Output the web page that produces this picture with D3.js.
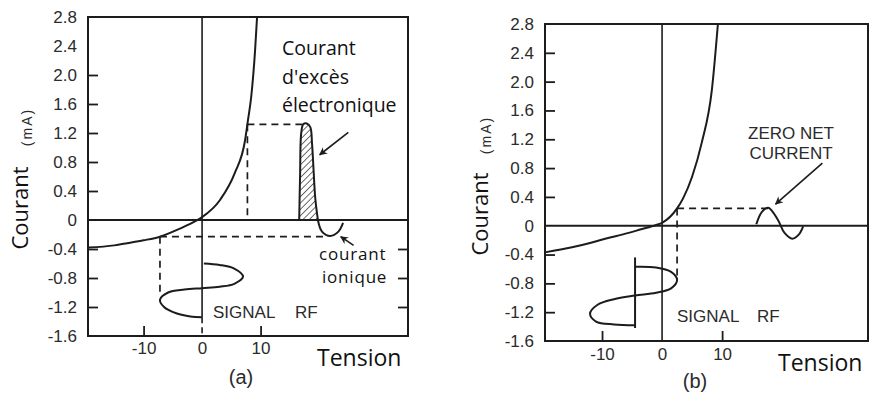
<!DOCTYPE html>
<html>
<head>
<meta charset="utf-8">
<script src="https://cdn.jsdelivr.net/npm/d3@7"></script>
<style>
  body { margin: 0; background: #fff; }
  svg { display: block; }
  .num { font-family: "Liberation Sans", Arial, sans-serif; fill: #2b2b2b; }
  .fr { font-family: "Open Sans", sans-serif; fill: #111; }
  .en { font-family: "Liberation Sans", Arial, sans-serif; fill: #2b2b2b; }
</style>
</head>
<body>
<svg id="chart" width="870" height="393"></svg>
<script>
// tick values (mA / V)
const yTicks = [2.8, 2.4, 2.0, 1.6, 1.2, 0.8, 0.4, 0, -0.4, -0.8, -1.2, -1.6];
const yTickLabels = ['2.8', '2.4', '2.0', '1.6', '1.2', '0.8', '0.4', '0', '-0.4', '-0.8', '-1.2', '-1.6'];
const xTicks = [-10, 0, 10];
const xTickLabels = ['-10', '0', '10'];

// (a) probe I-V characteristic
const ivA_V = [-19.5, -15, -12.8, -10, -7.2, -3.8, -1, 0, 3.1, 5.6, 7.35, 7.85, 8.4, 9.06, 9.4];
const ivA_I = [-0.38, -0.35, -0.32, -0.28, -0.23, -0.12, -0.01, 0.04, 0.28, 0.65, 1.1, 1.38, 1.7, 2.34, 2.8];
// (a) RF signal (drawn downward along the current axis)
const sigA_V = [0.3, 3, 5.5, 7, 5.5, 3, 0, -3, -5.8, -7.2, -6.5, -4.3, -2, 0];
const sigA_I = [-0.6, -0.62, -0.67, -0.78, -0.88, -0.92, -0.94, -0.96, -1.0, -1.1, -1.2, -1.29, -1.33, -1.34];
// (a) electron excess current pulse and ion current dip
const elecV = [16.6, 16.75, 16.95, 17.3, 17.9, 18.5, 18.8, 19.05, 19.35, 19.8];
const elecI = [0, 0.6, 1.2, 1.32, 1.33, 1.28, 1.05, 0.7, 0.3, 0];
const ionV = [19.8, 20.5, 21.9, 23.3, 24.1];
const ionI = [0, -0.16, -0.22, -0.16, -0.04];
// (a) projection points: peak of the signal on the curve, and the floating level
const peakA = [7.75, 1.32];
const floorA = [-7.2, -0.23];

// (b) probe I-V characteristic
const ivB_V = [-19.5, -15, -12, -9, -6.5, -3.5, -1, 0, 2.5, 3.5, 5, 6.6, 8.3, 9.3];
const ivB_I = [-0.37, -0.3, -0.24, -0.17, -0.12, -0.05, 0.01, 0.04, 0.24, 0.38, 0.68, 1.15, 1.89, 2.8];
// (b) RF signal centred on the self-bias voltage
const sigB_V = [-4.5, -1, 1.5, 2.5, 1.5, -1, -4.5, -8, -10.8, -12, -11, -8, -4.5];
const sigB_I = [-0.57, -0.58, -0.64, -0.75, -0.87, -0.93, -0.97, -1.02, -1.1, -1.22, -1.33, -1.37, -1.38];
const sigB_bias = -4.5;
// (b) zero net current response
const zeroV = [15.7, 16.6, 17.7, 19.3, 20.4, 21.7, 22.8, 23.5];
const zeroI = [0.02, 0.19, 0.25, 0.08, -0.1, -0.18, -0.12, -0.01];

const zip = (vs, is) => vs.map((v, i) => [v, is[i]]);
const ink = '#1c1c1c';

const svg = d3.select('#chart');
const defs = svg.append('defs');
defs.append('marker')
  .attr('id', 'arrow')
  .attr('viewBox', '0 0 10 10')
  .attr('refX', 9).attr('refY', 5)
  .attr('markerWidth', 10).attr('markerHeight', 8)
  .attr('markerUnits', 'userSpaceOnUse')
  .attr('orient', 'auto')
  .append('path').attr('d', 'M0,0 L10,5 L0,10 L3,5 z').attr('fill', ink);
defs.append('pattern')
  .attr('id', 'hatch')
  .attr('width', 4.5).attr('height', 4.5)
  .attr('patternUnits', 'userSpaceOnUse')
  .attr('patternTransform', 'rotate(45)')
  .append('line')
  .attr('x1', 0).attr('y1', 0).attr('x2', 0).attr('y2', 4.5)
  .attr('stroke', ink).attr('stroke-width', 1.3);

function drawPanel(p) {
  const x = d3.scaleLinear().domain(p.xDomain).range([p.left, p.right]);
  const y = d3.scaleLinear().domain([-1.6, 2.8]).range([p.bottom, p.top]);
  const g = svg.append('g');

  const smooth = d3.line().x(d => x(d[0])).y(d => y(d[1])).curve(d3.curveCatmullRom.alpha(0.5));
  const mono = d3.line().x(d => x(d[0])).y(d => y(d[1])).curve(d3.curveMonotoneX);
  const straight = d3.line().x(d => x(d[0])).y(d => y(d[1]));

  // tick labels
  g.append('g')
    .attr('transform', `translate(${p.left},0)`)
    .call(d3.axisLeft(y).tickValues(yTicks).tickFormat((d, i) => yTickLabels[i]).tickSize(0).tickPadding(11))
    .call(a => a.select('.domain').remove())
    .selectAll('text').attr('class', 'num').style('font-size', '17px');
  g.append('g')
    .attr('transform', `translate(0,${p.bottom})`)
    .call(d3.axisBottom(x).tickValues(xTicks).tickFormat((d, i) => xTickLabels[i]).tickSize(0).tickPadding(p.xPad))
    .call(a => a.select('.domain').remove())
    .selectAll('text').attr('class', 'num').style('font-size', '17px');

  // inward ticks
  const tickStyle = a => {
    a.select('.domain').remove();
    a.selectAll('text').remove();
    a.selectAll('line').attr('stroke', ink).attr('stroke-width', 1.8);
  };
  g.append('g').attr('transform', `translate(${p.left},0)`)
    .call(d3.axisRight(y).tickValues(p.leftTicks).tickSize(10)).call(tickStyle);
  if (p.rightTicks.length) {
    g.append('g').attr('transform', `translate(${p.right},0)`)
      .call(d3.axisLeft(y).tickValues(p.rightTicks).tickSize(10)).call(tickStyle);
  }
  g.append('g').attr('transform', `translate(0,${p.bottom})`)
    .call(d3.axisTop(x).tickValues(p.bottomTicks).tickSize(10)).call(tickStyle);

  // frame and zero axes
  g.append('rect')
    .attr('x', p.left).attr('y', p.top)
    .attr('width', p.right - p.left).attr('height', p.bottom - p.top)
    .attr('fill', 'none').attr('stroke', ink).attr('stroke-width', 2);
  g.append('line')
    .attr('x1', p.left).attr('x2', p.right).attr('y1', y(0)).attr('y2', y(0))
    .attr('stroke', ink).attr('stroke-width', 1.8);
  g.append('line')
    .attr('x1', x(0)).attr('x2', x(0)).attr('y1', p.top).attr('y2', y(p.zeroLineEnd))
    .attr('stroke', ink).attr('stroke-width', 1.6);
  if (p.zeroLineEnd > -1.6) {
    g.append('line')
      .attr('x1', x(0)).attr('x2', x(0)).attr('y1', y(p.zeroLineEnd)).attr('y2', p.bottom)
      .attr('stroke', ink).attr('stroke-width', 1.6).attr('stroke-dasharray', '6,4');
  }

  // dashed projections
  p.dashes.forEach(d => {
    g.append('path').attr('d', straight(d))
      .attr('fill', 'none').attr('stroke', ink).attr('stroke-width', 1.7).attr('stroke-dasharray', '7,5');
  });

  // hatched shapes
  p.hatched.forEach(d => {
    g.append('path').attr('d', smooth(d) + 'Z')
      .attr('fill', 'url(#hatch)').attr('stroke', ink).attr('stroke-width', 2);
  });

  // I-V curve
  g.append('path').attr('d', mono(p.iv))
    .attr('fill', 'none').attr('stroke', ink).attr('stroke-width', 2);

  // other curves
  p.curves.forEach(d => {
    g.append('path').attr('d', smooth(d))
      .attr('fill', 'none').attr('stroke', ink).attr('stroke-width', 2);
  });
  p.lines.forEach(d => {
    g.append('path').attr('d', straight(d))
      .attr('fill', 'none').attr('stroke', ink).attr('stroke-width', 2);
  });

  // arrows
  p.arrows.forEach(a => {
    g.append('line')
      .attr('x1', x(a[0][0])).attr('y1', y(a[0][1]))
      .attr('x2', x(a[1][0])).attr('y2', y(a[1][1]))
      .attr('stroke', ink).attr('stroke-width', 1.6)
      .attr('marker-end', 'url(#arrow)');
  });

  // labels (multi-line labels as tspans)
  p.texts.forEach(t => {
    const el = g.append('text')
      .attr('class', t.cls)
      .attr('x', t.x).attr('y', t.y)
      .style('font-size', t.size + 'px')
      .attr('text-anchor', t.anchor || 'start');
    const lines = Array.isArray(t.text) ? t.text : [t.text];
    lines.forEach((s, i) => {
      el.append('tspan')
        .attr('x', t.x + (t.indent ? t.indent[i] : 0))
        .attr('dy', i === 0 ? 0 : t.lh)
        .text(s);
    });
    if (t.rotate) el.attr('transform', `rotate(-90,${t.x},${t.y})`);
    if (t.spacing) el.attr('letter-spacing', t.spacing);
  });
}

drawPanel({
  left: 88, right: 408, top: 17, bottom: 336,
  xDomain: [-19.5, 35.2], xPad: 6,
  leftTicks: [2.0, 1.6, 1.2, 0.8, 0.4, -0.4, -0.8, -1.2],
  rightTicks: [-0.4, -0.8, -1.2],
  bottomTicks: [-10, 10],
  zeroLineEnd: sigA_I[sigA_I.length - 1],
  iv: zip(ivA_V, ivA_I),
  dashes: [
    [peakA, [elecV[3], peakA[1]]],
    [peakA, [peakA[0], 0]],
    [floorA, [21, floorA[1]]],
    [floorA, [floorA[0], -1.06]]
  ],
  hatched: [zip(elecV, elecI)],
  curves: [zip(sigA_V, sigA_I), zip(ionV, ionI)],
  lines: [],
  arrows: [[[25, 1.21], [20.1, 0.9]], [[25.9, -0.35], [23.7, -0.23]]],
  texts: [
    { cls: 'fr', x: 28, y: 208, size: 22, text: 'Courant', anchor: 'middle', rotate: true },
    { cls: 'en', x: 32, y: 127, size: 14, text: '(mA)', anchor: 'middle', rotate: true, spacing: 2 },
    { cls: 'fr', x: 282, y: 55, size: 19.5, text: ['Courant', "d'excès", 'électronique'], lh: 28.5 },
    { cls: 'fr', x: 319, y: 259.5, size: 17, text: ['courant', 'ionique'], lh: 23.3, indent: [0, 3], spacing: 0.8 },
    { cls: 'en', x: 213, y: 318, size: 17, text: 'SIGNAL' },
    { cls: 'en', x: 295, y: 318, size: 17, text: 'RF' },
    { cls: 'fr', x: 317, y: 366, size: 23, text: 'Tension' },
    { cls: 'en', x: 241, y: 384, size: 20, text: '(a)', anchor: 'middle' }
  ]
});

drawPanel({
  left: 545, right: 868, top: 24, bottom: 341,
  xDomain: [-19.5, 34.3], xPad: 7,
  leftTicks: [2.4, 2.0, 1.6, 1.2, 0.8, 0.4, -0.4, -0.8, -1.2],
  rightTicks: [],
  bottomTicks: [-10, 10],
  zeroLineEnd: -1.6,
  iv: zip(ivB_V, ivB_I),
  dashes: [
    [[ivB_V[8], ivB_I[8]], [zeroV[2], ivB_I[8]]],
    [[ivB_V[8], ivB_I[8]], [ivB_V[8], sigB_I[3]]]
  ],
  hatched: [],
  curves: [zip(sigB_V, sigB_I), zip(zeroV, zeroI)],
  lines: [[[sigB_bias, -0.44], [sigB_bias, -1.42]]],
  arrows: [[[26.7, 0.87], [18.9, 0.3]]],
  texts: [
    { cls: 'fr', x: 488, y: 214, size: 22, text: 'Courant', anchor: 'middle', rotate: true },
    { cls: 'en', x: 491, y: 135, size: 14, text: '(mA)', anchor: 'middle', rotate: true, spacing: 2 },
    { cls: 'en', x: 791, y: 139, size: 17, text: ['ZERO  NET', 'CURRENT'], anchor: 'middle', lh: 19.5 },
    { cls: 'en', x: 677, y: 322, size: 17, text: 'SIGNAL' },
    { cls: 'en', x: 757, y: 322, size: 17, text: 'RF' },
    { cls: 'fr', x: 778, y: 371, size: 23, text: 'Tension' },
    { cls: 'en', x: 695, y: 388, size: 20, text: '(b)', anchor: 'middle' }
  ]
});
</script>
</body>
</html>
